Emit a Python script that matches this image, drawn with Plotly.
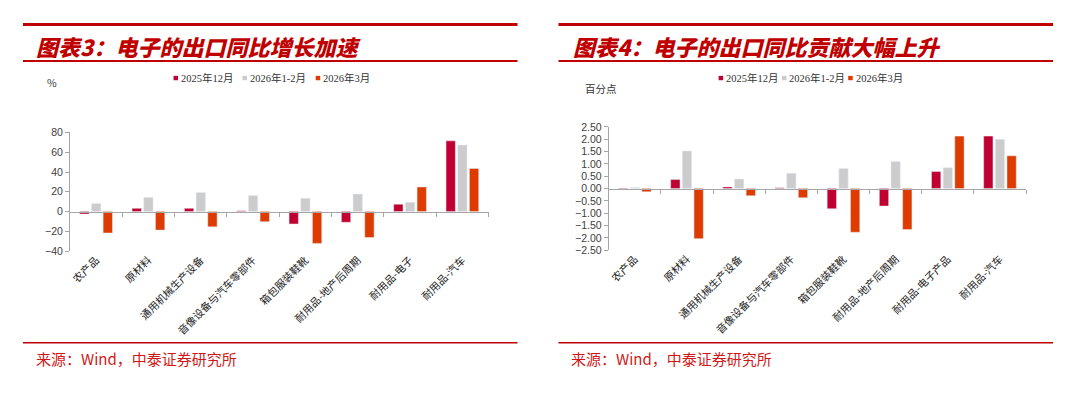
import plotly.graph_objects as go

# =====================================
# DATA
# =====================================

categories_yoy = [
    "农产品", "原材料", "通用机械生产设备", "音像设备与汽车零部件",
    "箱包服装鞋靴", "耐用品-地产后周期", "耐用品-电子", "耐用品-汽车",
]
categories_contrib = [
    "农产品", "原材料", "通用机械生产设备", "音像设备与汽车零部件",
    "箱包服装鞋靴", "耐用品-地产后周期", "耐用品-电子产品", "耐用品-汽车",
]
series_names = ["2025年12月", "2026年1-2月", "2026年3月"]

# 图表3: 出口同比 (%)
yoy_2025_12 = [-2.5, 3.3, 3.3, 0.8, -12.5, -10.8, 7.5, 71.5]
yoy_2026_0102 = [8.2, 14.4, 19.3, 16.4, 13.4, 17.7, 9.5, 67.2]
yoy_2026_03 = [-21.6, -18.7, -15.4, -10.2, -32.1, -26.2, 24.9, 43.6]

# 图表4: 出口同比贡献 (百分点)
contrib_2025_12 = [-0.03, 0.37, 0.07, 0.04, -0.82, -0.71, 0.69, 2.13]
contrib_2026_0102 = [0.05, 1.53, 0.39, 0.62, 0.82, 1.10, 0.85, 2.00]
contrib_2026_03 = [-0.13, -2.03, -0.29, -0.37, -1.77, -1.66, 2.13, 1.33]

yoy_ticks = [-40, -20, 0, 20, 40, 60, 80]
contrib_ticks = [-2.5, -2.0, -1.5, -1.0, -0.5, 0.0, 0.5, 1.0, 1.5, 2.0, 2.5]

# =====================================
# STYLE
# =====================================

W, H = 1080, 404
COLORS = ["#C00030", "#CCCCCC", "#DD3B00"]
RED = "#C00000"
AXIS_GREY = "#A6A6A6"


def fx(px):
    return px / W


def fy(py):
    return 1 - py / H


left_dom_x = [fx(69), fx(488)]
left_dom_y = [fy(252.7), fy(130.3)]
right_dom_x = [fx(608.3), fx(1026)]
right_dom_y = [fy(251.7), fy(124.7)]
left_range = [-40, 80]
right_range = [-2.5, 2.5]


def zero_pos(dom, rng):
    return dom[0] + (0 - rng[0]) / (rng[1] - rng[0]) * (dom[1] - dom[0])


fig = go.Figure()

for name, vals, col in zip(series_names,
                           [yoy_2025_12, yoy_2026_0102, yoy_2026_03],
                           COLORS):
    fig.add_trace(go.Bar(x=categories_yoy, y=vals, name=name,
                         marker_color=col, xaxis="x", yaxis="y",
                         showlegend=False))

for name, vals, col in zip(series_names,
                           [contrib_2025_12, contrib_2026_0102, contrib_2026_03],
                           COLORS):
    fig.add_trace(go.Bar(x=categories_contrib, y=vals, name=name,
                         marker_color=col, xaxis="x2", yaxis="y2",
                         showlegend=False))

# empty traces so the zero-line axes get drawn
fig.add_trace(go.Scatter(x=[], y=[], xaxis="x3", yaxis="y",
                         showlegend=False, hoverinfo="skip"))
fig.add_trace(go.Scatter(x=[], y=[], xaxis="x4", yaxis="y2",
                         showlegend=False, hoverinfo="skip"))

cat_axis = dict(
    type="category", showline=False, ticks="", showgrid=False,
    tickangle=-45, tickfont=dict(family="Noto Sans CJK SC", size=10.5,
                                 color="#1A1A1A"),
)
zero_axis = dict(
    type="linear", range=[-0.5, 7.5], tick0=-0.5, dtick=1,
    showline=True, linecolor=AXIS_GREY, linewidth=1,
    ticks="outside", ticklen=4, tickcolor=AXIS_GREY,
    showticklabels=False, showgrid=False, zeroline=False, anchor="free",
)
val_axis = dict(
    showline=True, linecolor=AXIS_GREY, linewidth=1,
    ticks="outside", ticklen=4, tickcolor=AXIS_GREY,
    showgrid=False, zeroline=False,
    tickfont=dict(family="Liberation Sans, Arial", size=10.5, color="#404040"),
)

fig.update_layout(
    xaxis=dict(cat_axis, domain=left_dom_x, anchor="y"),
    yaxis=dict(val_axis, domain=left_dom_y, anchor="x", range=left_range,
               tickvals=yoy_ticks),
    xaxis2=dict(cat_axis, domain=right_dom_x, anchor="y2"),
    yaxis2=dict(val_axis, domain=right_dom_y, anchor="x2", range=right_range,
                tickvals=contrib_ticks, tickformat=".2f"),
    xaxis3=dict(zero_axis, domain=left_dom_x, overlaying="x",
                position=zero_pos(left_dom_y, left_range)),
    xaxis4=dict(zero_axis, domain=right_dom_x, overlaying="x2",
                position=zero_pos(right_dom_y, right_range)),
    barmode="group",
    bargap=0.33,
    bargroupgap=0.2,
    width=W,
    height=H,
    margin=dict(l=0, r=0, t=0, b=0),
    paper_bgcolor="white",
    plot_bgcolor="white",
    showlegend=False,
)

# =====================================
# FRAME LINES, TITLES, FOOTERS
# =====================================

panels = [
    dict(x0=22, x1=517, title="图表3：电子的出口同比增长加速", tx=33,
         unit="%", ux=51, uy=79, legend_x=[172.7, 241.7, 315]),
    dict(x0=558, x1=1053, title="图表4：电子的出口同比贡献大幅上升", tx=571,
         unit="百分点", ux=601, uy=85, legend_x=[718.3, 781.7, 848]),
]

for p in panels:
    for y, w in [(19, 3), (56.7, 2), (347, 1.5)]:
        fig.add_shape(type="line", xref="paper", yref="paper",
                      x0=fx(p["x0"]), x1=fx(p["x1"]), y0=fy(y), y1=fy(y),
                      line=dict(color=RED, width=w))
    fig.add_annotation(
        x=fx(p["tx"]), y=fy(41), xref="paper", yref="paper",
        xanchor="left", yanchor="middle", showarrow=False, text=p["title"],
        font=dict(family="Noto Sans CJK SC", size=22, color=RED,
                  weight=900, style="italic"),
    )
    fig.add_annotation(
        x=fx(p["x0"] + 11), y=fy(363), xref="paper", yref="paper",
        xanchor="left", yanchor="middle", showarrow=False,
        text="来源：Wind，中泰证券研究所",
        font=dict(family="Noto Sans CJK SC", size=15, color="#D01818"),
    )
    fig.add_annotation(
        x=fx(p["ux"]), y=fy(p["uy"]), xref="paper", yref="paper",
        xanchor="center", yanchor="middle", showarrow=False, text=p["unit"],
        font=dict(family="Noto Sans CJK SC", size=10.5, color="#333333"),
    )
    # legend keys
    for lx, name, col in zip(p["legend_x"], series_names, COLORS):
        fig.add_shape(type="rect", xref="paper", yref="paper",
                      x0=fx(lx), x1=fx(lx + 4.5), y0=fy(76.5), y1=fy(72),
                      fillcolor=col, line=dict(width=0))
        fig.add_annotation(
            x=fx(lx + 5.5), y=fy(74.3), xref="paper", yref="paper",
            xanchor="left", yanchor="middle", showarrow=False, text=name,
            font=dict(family="Liberation Serif, Noto Sans CJK SC", size=10.5,
                      color="#333333"),
        )

fig.write_html("out.html", config={"displayModeBar": False},
               post_script="document.body.style.margin='0';")
